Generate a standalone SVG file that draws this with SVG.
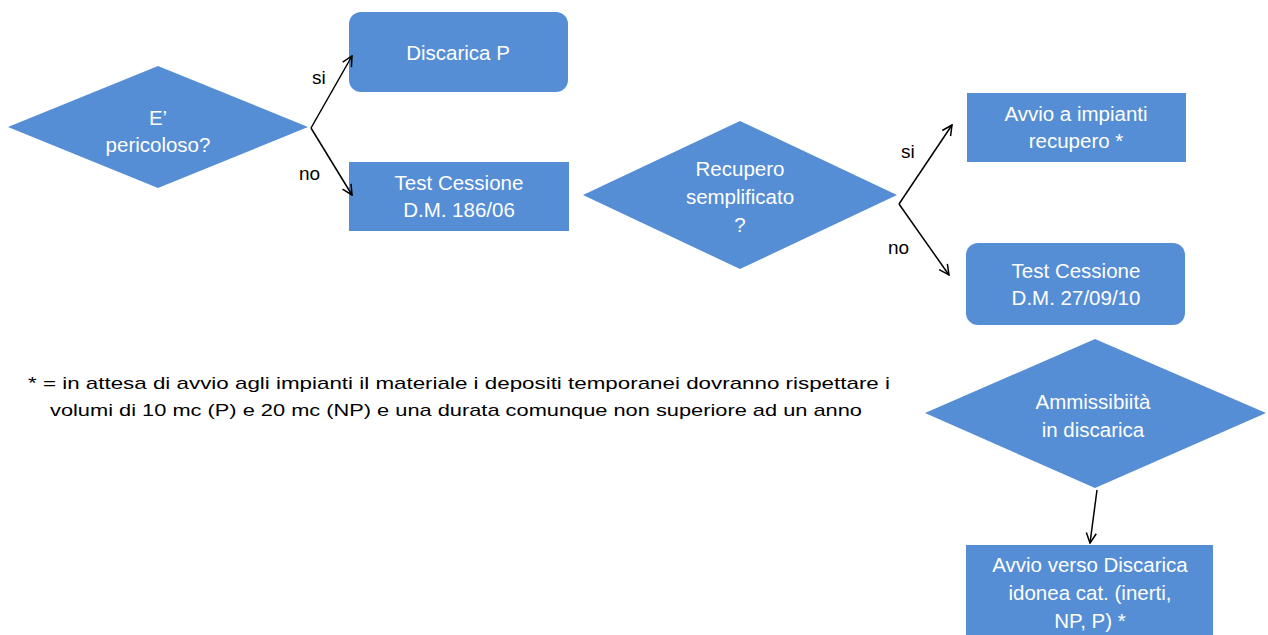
<svg xmlns="http://www.w3.org/2000/svg" width="1268" height="635" viewBox="0 0 1268 635">
<style>
.shape{fill:#558ED5;}
.nt{fill:#ffffff;font-family:"Liberation Sans",Arial,sans-serif;font-size:20.5px;text-anchor:middle;}
.lbl{fill:#000000;font-family:"Liberation Sans",Arial,sans-serif;font-size:19px;}
.note{fill:#000000;font-family:"Liberation Sans",Arial,sans-serif;font-size:17px;}
.conn{stroke:#000000;stroke-width:1.5;fill:none;marker-end:url(#arr);}
</style>
<defs>
<marker id="arr" viewBox="0 0 12 12" refX="11" refY="6" markerWidth="12" markerHeight="12" markerUnits="userSpaceOnUse" orient="auto">
<path d="M1,1 L11,6 L1,11" fill="none" stroke="#000" stroke-width="1.5"/>
</marker>
</defs>
<rect width="1268" height="635" fill="#ffffff"/>
<g id="d1">
<polygon class="shape" points="8,127 158,66 308,127 158,188"/>
<text class="nt" x="158" y="125">E’</text>
<text class="nt" x="158" y="152">pericoloso?</text>
</g>
<g id="n-discaricaP">
<rect class="shape" x="349" y="12" width="219" height="80" rx="12"/>
<text class="nt" x="458" y="60">Discarica P</text>
</g>
<g id="n-test1">
<rect class="shape" x="349" y="162" width="220" height="69"/>
<text class="nt" x="459" y="190">Test Cessione</text>
<text class="nt" x="459" y="217">D.M. 186/06</text>
</g>
<g id="d2">
<polygon class="shape" points="583,195 740,121 897,195 740,269"/>
<text class="nt" x="740" y="176">Recupero</text>
<text class="nt" x="740" y="204">semplificato</text>
<text class="nt" x="740" y="232">?</text>
</g>
<g id="n-avvio">
<rect class="shape" x="967" y="93" width="219" height="69"/>
<text class="nt" x="1076" y="121">Avvio a impianti</text>
<text class="nt" x="1076" y="148">recupero *</text>
</g>
<g id="n-test2">
<rect class="shape" x="966" y="243" width="219" height="82" rx="12"/>
<text class="nt" x="1076" y="278">Test Cessione</text>
<text class="nt" x="1076" y="305">D.M. 27/09/10</text>
</g>
<g id="d3">
<polygon class="shape" points="925,413 1095,339 1266,413 1095,488"/>
<text class="nt" x="1093" y="409">Ammissibiità</text>
<text class="nt" x="1093" y="437">in discarica</text>
</g>
<g id="n-discarica-final">
<rect class="shape" x="966" y="545" width="247" height="95"/>
<text class="nt" x="1090" y="572">Avvio verso Discarica</text>
<text class="nt" x="1090" y="600">idonea cat. (inerti,</text>
<text class="nt" x="1090" y="628">NP, P) *</text>
</g>
<g id="connectors">
<line class="conn" x1="311" y1="128" x2="352" y2="56"/>
<line class="conn" x1="311" y1="128" x2="352" y2="195"/>
<line class="conn" x1="899" y1="204" x2="952" y2="125"/>
<line class="conn" x1="899" y1="204" x2="949" y2="275"/>
<line class="conn" x1="1097" y1="490" x2="1090" y2="543"/>
</g>
<g id="labels">
<text class="lbl" x="312" y="84">si</text>
<text class="lbl" x="299" y="180">no</text>
<text class="lbl" x="901" y="158">si</text>
<text class="lbl" x="888" y="254">no</text>
</g>
<g id="footnote">
<text class="note" x="28" y="389" textLength="862" lengthAdjust="spacingAndGlyphs">* = in attesa di avvio agli impianti il materiale i depositi temporanei dovranno rispettare i</text>
<text class="note" x="50" y="416" textLength="812" lengthAdjust="spacingAndGlyphs">volumi di 10 mc (P) e 20 mc (NP) e una durata comunque non superiore ad un anno</text>
</g>
</svg>
